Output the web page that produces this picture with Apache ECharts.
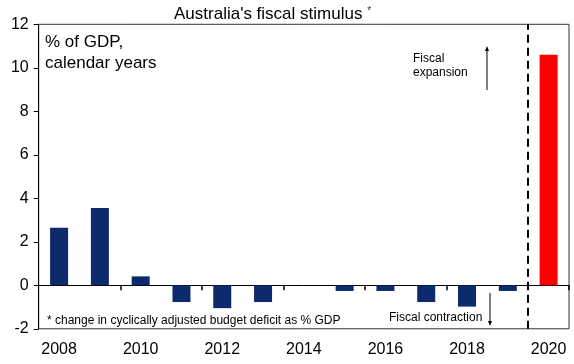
<!DOCTYPE html>
<html><head><meta charset="utf-8">
<script src="https://cdn.jsdelivr.net/npm/echarts@6/dist/echarts.min.js"></script>
<style>html,body{margin:0;padding:0;background:#fff}#c{width:574px;height:364px}</style>
</head><body><div id="c"></div>
<script>
var years = ['2008','2009','2010','2011','2012','2013','2014','2015','2016','2017','2018','2019','2020'];
var stimulus = [2.65, 3.55, 0.41, -0.77, -1.05, -0.77, 0, -0.26, -0.26, -0.77, -0.98, -0.26, 10.6];
var yTicks = [-2, 0, 2, 4, 6, 8, 10, 12];
var highlightYear = '2020';
var dividerPos = 11.5;

var chart = echarts.init(document.getElementById('c'), null, {renderer: 'canvas'});
var FONT = 'Liberation Sans, Arial, sans-serif';
chart.setOption({
  animation: false,
  title: {
    text: "Australia's fiscal stimulus {s|*}",
    left: 169, top: 1,
    textStyle: {fontFamily: FONT, fontSize: 17, fontWeight: 'normal', color: '#000',
      rich: {s: {fontSize: 10, verticalAlign: 'top', color: '#333', fontFamily: FONT, padding: [0,0,6,0]}}}
  },
  grid: {left: 38.7, right: 5, top: 24.3, bottom: 35.2, show: true, borderColor: '#333', borderWidth: 1, backgroundColor: '#fff'},
  xAxis: [{
    type: 'category', data: years, position: 'top',
    axisLine: {onZero: true, lineStyle: {color: '#000', width: 1}},
    axisTick: {show: true, inside: true, length: 5, interval: function (i) { return i > 0 && i % 2 === 0; }, lineStyle: {color: '#000', width: 1.5}},
    axisLabel: {show: false}
  }, {
    type: 'category', data: years, position: 'bottom',
    axisLine: {show: false, onZero: false}, axisTick: {show: false},
    axisLabel: {interval: 1, margin: 13, fontFamily: FONT, fontSize: 16, color: '#000'}
  }, {
    type: 'value', min: -0.5, max: years.length - 0.5, show: false
  }],
  yAxis: {
    type: 'value', min: yTicks[0], max: yTicks[yTicks.length - 1], interval: 2,
    splitLine: {show: false},
    axisLine: {show: true, onZero: false, lineStyle: {color: '#000'}},
    axisTick: {show: true, length: 5, lineStyle: {color: '#000'}},
    axisLabel: {margin: 10, fontFamily: FONT, fontSize: 16, color: '#000'}
  },
  series: [{
    type: 'bar', xAxisIndex: 0, barWidth: 18,
    data: stimulus.map(function (v, i) {
      return {value: v, itemStyle: {color: years[i] === highlightYear ? '#ff0000' : '#0c2a6c'}};
    })
  }, {
    type: 'line', xAxisIndex: 2, data: [], showSymbol: false,
    markLine: {
      silent: true, symbol: ['none', 'none'], label: {show: false},
      lineStyle: {color: '#000', type: [8, 5], width: 2},
      data: [{xAxis: dividerPos}]
    }
  }],
  graphic: [
    {type: 'text', left: 45, top: 32, style: {text: '% of GDP,\ncalendar years', font: '17px ' + FONT, fill: '#000', lineHeight: 21}},
    {type: 'text', left: 413, top: 52, style: {text: 'Fiscal\nexpansion', font: '12px ' + FONT, fill: '#000', lineHeight: 14}},
    {type: 'text', left: 47, top: 315, style: {text: '* change in cyclically adjusted budget deficit as % GDP', font: '12px ' + FONT, fill: '#000'}},
    {type: 'text', left: 389, top: 312, style: {text: 'Fiscal contraction', font: '12px ' + FONT, fill: '#000'}},
    {type: 'line', shape: {x1: 487, y1: 90, x2: 487, y2: 49}, style: {stroke: '#000', lineWidth: 1}},
    {type: 'polygon', shape: {points: [[487, 46], [485, 51], [489, 51]]}, style: {fill: '#000'}},
    {type: 'line', shape: {x1: 490, y1: 293, x2: 490, y2: 323}, style: {stroke: '#000', lineWidth: 1}},
    {type: 'polygon', shape: {points: [[490, 326], [488, 321], [492, 321]]}, style: {fill: '#000'}}
  ]
});
</script></body></html>
